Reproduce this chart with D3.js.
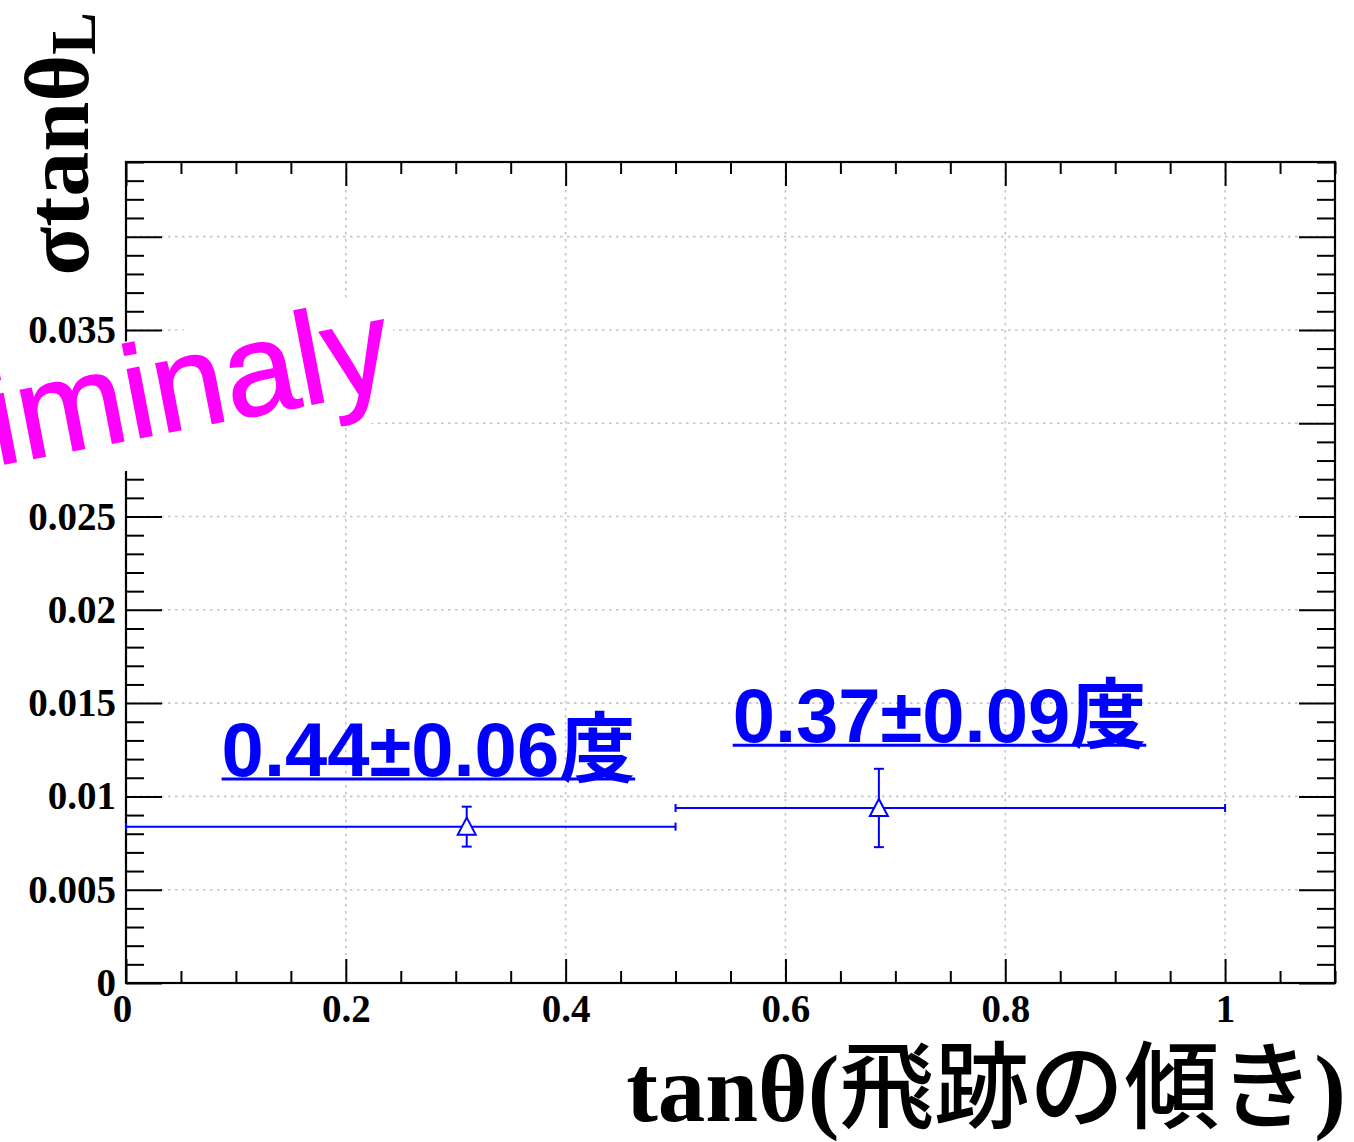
<!DOCTYPE html>
<html>
<head>
<meta charset="utf-8">
<script src="https://cdn.jsdelivr.net/npm/d3@7"></script>
<style>
  body { margin: 0; background: #fff; }
  svg { display: block; }
</style>
</head>
<body>
<svg id="chart" width="1354" height="1142"></svg>
<script>
// Resolution of tanθ_L per tanθ bin
const binCenter = [0.31, 0.685];
const binLow    = [0.0, 0.5];
const binHigh   = [0.5, 1.0];
const sigma     = [0.00838, 0.00938];
const sigmaErr  = [0.00107, 0.0021];

// Annotations (angle resolution in degrees), anchored in data coordinates
const resultLabels = ["0.44±0.06度", "0.37±0.09度"];
const resultLabelX = [0.087, 0.552];
const resultLabelY = [0.0111, 0.0129];

// Axis ticks
const xMajorTicks = [0, 0.2, 0.4, 0.6, 0.8, 1];
const xTickLabels = ["0", "0.2", "0.4", "0.6", "0.8", "1"];
const yMajorTicks = [0, 0.005, 0.01, 0.015, 0.02, 0.025, 0.03, 0.035, 0.04];
const yTickLabels = ["0", "0.005", "0.01", "0.015", "0.02", "0.025", "0.03", "0.035", "0.04"];

const xTitleParts = ["tanθ(", "飛跡の傾き", ")"];
const yTitleMain = "σtanθ";
const yTitleSub = "L";
const stamp = "Preliminaly";

const frame = { left: 126, right: 1335, top: 162, bottom: 983 };
const x = d3.scaleLinear().domain([0, 1.1]).range([frame.left, frame.right]);
const y = d3.scaleLinear().domain([0, 0.044]).range([frame.bottom, frame.top]);

const svg = d3.select("#chart");
const serif = "'Liberation Serif', 'Times New Roman', 'Noto Sans CJK JP', serif";
const blue = "#0000ff";

// grid
const grid = svg.append("g").attr("stroke", "#c4c4c4").attr("stroke-width", 1.6)
  .attr("stroke-dasharray", "2.5,4.5");
grid.selectAll("line.v").data(xMajorTicks.filter(d => d > 0)).join("line")
  .attr("x1", d => x(d)).attr("x2", d => x(d))
  .attr("y1", frame.top).attr("y2", frame.bottom);
grid.selectAll("line.h").data(yMajorTicks.filter(d => d > 0)).join("line")
  .attr("x1", frame.left).attr("x2", frame.right)
  .attr("y1", d => y(d)).attr("y2", d => y(d));

// axes: ticks point inward, labels on bottom and left
function styleAxis(g) {
  g.select(".domain").remove();
  g.selectAll(".tick line").attr("stroke", "#000").attr("stroke-width", 2);
  g.selectAll("text").attr("fill", "#000").attr("font-family", serif)
    .attr("font-weight", "bold").attr("font-size", 39);
}
const xMinor = x.ticks(22).filter(d => !xMajorTicks.some(m => Math.abs(m - d) < 1e-9));
const yMinor = y.ticks(44).filter(d => !yMajorTicks.some(m => Math.abs(m - d) < 1e-9));

const xAxisG = svg.append("g").attr("transform", `translate(0,${frame.bottom})`)
  .call(d3.axisBottom(x).tickValues(xMajorTicks).tickFormat((d, i) => xTickLabels[i])
    .tickSize(-24).tickPadding(11)).call(styleAxis);
// the origin label sits slightly left of its tick
xAxisG.selectAll(".tick text").filter(d => d === 0).attr("dx", -4);
svg.append("g").attr("transform", `translate(0,${frame.bottom})`)
  .call(d3.axisBottom(x).tickValues(xMinor).tickFormat("").tickSize(-12)).call(styleAxis);
svg.append("g").attr("transform", `translate(0,${frame.top})`)
  .call(d3.axisTop(x).tickValues(xMajorTicks).tickFormat("").tickSize(-24)).call(styleAxis);
svg.append("g").attr("transform", `translate(0,${frame.top})`)
  .call(d3.axisTop(x).tickValues(xMinor).tickFormat("").tickSize(-12)).call(styleAxis);

svg.append("g").attr("transform", `translate(${frame.left},0)`)
  .call(d3.axisLeft(y).tickValues(yMajorTicks).tickFormat((d, i) => yTickLabels[i])
    .tickSize(-36).tickPadding(10)).call(styleAxis);
svg.append("g").attr("transform", `translate(${frame.left},0)`)
  .call(d3.axisLeft(y).tickValues(yMinor).tickFormat("").tickSize(-18)).call(styleAxis);
svg.append("g").attr("transform", `translate(${frame.right},0)`)
  .call(d3.axisRight(y).tickValues(yMajorTicks).tickFormat("").tickSize(-36)).call(styleAxis);
svg.append("g").attr("transform", `translate(${frame.right},0)`)
  .call(d3.axisRight(y).tickValues(yMinor).tickFormat("").tickSize(-18)).call(styleAxis);

// frame
svg.append("rect").attr("x", frame.left).attr("y", frame.top)
  .attr("width", frame.right - frame.left).attr("height", frame.bottom - frame.top)
  .attr("fill", "none").attr("stroke", "#000").attr("stroke-width", 2.2);

// data points with asymmetric x errors (bin edges) and symmetric y errors
const pts = binCenter.map((c, i) => ({
  cx: c, lo: binLow[i], hi: binHigh[i], v: sigma[i], e: sigmaErr[i]
}));
const gp = svg.append("g").attr("stroke", blue).attr("stroke-width", 2).attr("fill", "none");
const pg = gp.selectAll("g").data(pts).join("g");
pg.append("line")
  .attr("x1", d => x(d.lo)).attr("x2", d => x(d.hi))
  .attr("y1", d => y(d.v)).attr("y2", d => y(d.v));
pg.append("line")
  .attr("x1", d => x(d.lo)).attr("x2", d => x(d.lo))
  .attr("y1", d => y(d.v) - 4).attr("y2", d => y(d.v) + 4);
pg.append("line")
  .attr("x1", d => x(d.hi)).attr("x2", d => x(d.hi))
  .attr("y1", d => y(d.v) - 4).attr("y2", d => y(d.v) + 4);
pg.append("line")
  .attr("x1", d => x(d.cx)).attr("x2", d => x(d.cx))
  .attr("y1", d => y(d.v - d.e)).attr("y2", d => y(d.v + d.e));
pg.append("line")
  .attr("x1", d => x(d.cx) - 5).attr("x2", d => x(d.cx) + 5)
  .attr("y1", d => y(d.v + d.e)).attr("y2", d => y(d.v + d.e));
pg.append("line")
  .attr("x1", d => x(d.cx) - 5).attr("x2", d => x(d.cx) + 5)
  .attr("y1", d => y(d.v - d.e)).attr("y2", d => y(d.v - d.e));
pg.append("path")
  .attr("fill", "#fff")
  .attr("d", d => {
    const cx = x(d.cx), cy = y(d.v);
    return `M${cx},${cy - 9}L${cx + 9},${cy + 8}L${cx - 9},${cy + 8}Z`;
  });

// result annotations, underlined
resultLabels.forEach((t, i) => {
  const tx = x(resultLabelX[i]), ty = y(resultLabelY[i]);
  const txt = svg.append("text").attr("x", tx).attr("y", ty)
    .attr("fill", blue).attr("font-family", "'Liberation Sans', Arial, 'Noto Sans CJK JP', sans-serif")
    .attr("font-weight", "bold").attr("font-size", 76).text(t);
  const w = txt.node().getComputedTextLength();
  svg.append("line").attr("x1", tx).attr("x2", tx + w)
    .attr("y1", ty + 3).attr("y2", ty + 3)
    .attr("stroke", blue).attr("stroke-width", 3);
});

// y title on a white panel
svg.append("rect").attr("x", 0).attr("y", 0).attr("width", 118).attr("height", 285).attr("fill", "#fff");
const yt = svg.append("text").attr("transform", "translate(88,12) rotate(-90)")
  .attr("text-anchor", "end").attr("font-family", serif).attr("font-weight", "bold")
  .attr("font-size", 90).attr("fill", "#000");
yt.append("tspan").text(yTitleMain);
yt.append("tspan").attr("font-size", 64).attr("dy", 7).text(yTitleSub);

// x title
const xt = svg.append("text").attr("x", 1346).attr("y", 1121).attr("text-anchor", "end")
  .attr("font-family", serif).attr("font-weight", "bold").attr("font-size", 95)
  .attr("fill", "#000");
xt.append("tspan").text(xTitleParts[0]);
xt.append("tspan").attr("font-family", "'Noto Sans CJK JP', sans-serif")
  .attr("font-weight", 500).text(xTitleParts[1]);
xt.append("tspan").text(xTitleParts[2]);

// stamp on a rotated white panel
const sg = svg.append("g").attr("transform", "translate(-6,466) rotate(-11)");
sg.append("rect").attr("x", -700).attr("y", -97).attr("width", 700 + 418).attr("height", 127).attr("fill", "#fff");
sg.append("text").attr("x", 410).attr("y", 0).attr("text-anchor", "end")
  .attr("font-family", "'Liberation Sans', Arial, sans-serif").attr("font-size", 131)
  .attr("stroke", "#ff00ff").attr("stroke-width", 1.5)
  .attr("fill", "#ff00ff").text(stamp);
</script>
</body>
</html>
